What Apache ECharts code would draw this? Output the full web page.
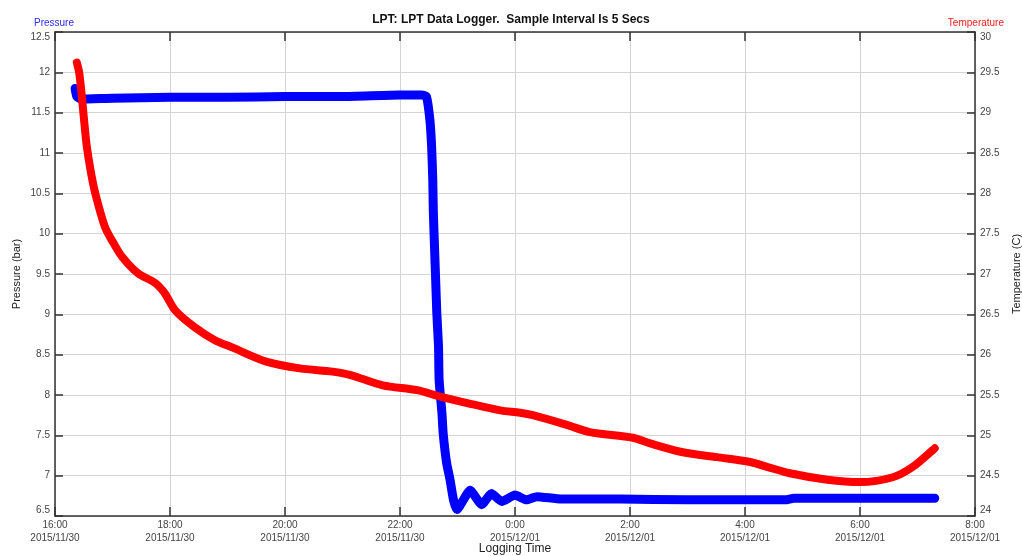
<!DOCTYPE html>
<html>
<head>
<meta charset="utf-8">
<script src="https://cdn.jsdelivr.net/npm/echarts@6/dist/echarts.min.js"></script>
<style>
  html, body { margin: 0; padding: 0; background: #fff; }
  #chart { width: 1022px; height: 556px; }
</style>
</head>
<body>
<div id="chart"></div>
<script>
// Logging time is in hours counted from 2015/11/30 00:00
const pressureHours = [16.35, 16.38, 16.45, 17.0, 18.0, 19.0, 20.0, 21.0, 22.0, 22.30, 22.38, 22.46, 22.52,
  22.55, 22.57, 22.58, 22.60, 22.62, 22.64, 22.67, 22.68, 22.73, 22.75, 22.81, 22.87, 22.93, 22.99,
  23.22, 23.42, 23.59, 23.77, 24.0, 24.20, 24.38, 24.8, 25.83, 27.0, 28.0, 28.7, 28.85, 29.5, 30.5, 31.3];
const pressureBar = [11.80, 11.70, 11.67, 11.68, 11.69, 11.69, 11.70, 11.70, 11.72, 11.72, 11.72, 11.70, 11.41,
  11.08, 10.67, 10.26, 9.84, 9.43, 9.02, 8.60, 8.19, 7.77, 7.53, 7.16, 6.95, 6.70, 6.58,
  6.82, 6.64, 6.78, 6.68, 6.76, 6.70, 6.74, 6.71, 6.71, 6.70, 6.70, 6.70, 6.72, 6.72, 6.72, 6.72];

const tempHours = [16.38, 16.42, 16.46, 16.50, 16.55, 16.62, 16.70, 16.87, 17.02, 17.17, 17.44, 17.74, 17.91,
  18.09, 18.43, 18.78, 19.08, 19.69, 20.26, 20.83, 21.13, 21.70, 22.30, 22.70, 23.17, 23.74, 24.09,
  24.31, 24.90, 25.30, 26.05, 26.35, 26.92, 27.51, 28.09, 28.38, 28.78, 29.43, 30.00, 30.57, 30.92, 31.27, 31.30];
const tempC = [29.62, 29.50, 29.25, 28.95, 28.60, 28.28, 28.00, 27.58, 27.38, 27.21, 27.01, 26.89, 26.76,
  26.55, 26.34, 26.18, 26.09, 25.91, 25.83, 25.79, 25.75, 25.62, 25.56, 25.48, 25.40, 25.31, 25.28,
  25.25, 25.13, 25.04, 24.97, 24.90, 24.79, 24.73, 24.67, 24.61, 24.53, 24.45, 24.42, 24.48, 24.61, 24.82, 24.84];

const pressureTicks = { min: 6.5, max: 12.5, interval: 0.5 };
const tempTicks = { min: 24, max: 30, interval: 0.5 };
const timeTicks = { min: 16, max: 32, interval: 2 };

const FONT = '"Liberation Sans", Arial, sans-serif';
const FRAME = '#333';
const LABEL = '#444';

function timeLabel(h) {
  const hh = Math.round(h) % 24;
  const day = h < 24 ? '2015/11/30' : '2015/12/01';
  return hh + ':00\n' + day;
}

// keep the end labels of a vertical axis inside the plot's height
function edgeLabel(ticks) {
  return function (v) {
    if (v === ticks.min) return '{lo|' + v + '}';
    if (v === ticks.max) return '{hi|' + v + '}';
    return String(v);
  };
}
const edgeRich = {
  lo: { fontFamily: FONT, fontSize: 10, color: LABEL, padding: [0, 0, 12, 0] },
  hi: { fontFamily: FONT, fontSize: 10, color: LABEL, padding: [10, 0, 0, 0] }
};

const pressureData = pressureHours.map((h, i) => [h, pressureBar[i]]);
const tempData = tempHours.map((h, i) => [h, tempC[i]]);

const chart = echarts.init(document.getElementById('chart'), null, { renderer: 'canvas' });
chart.setOption({
  animation: false,
  backgroundColor: '#fff',
  textStyle: { fontFamily: FONT },
  title: {
    text: 'LPT: LPT Data Logger.  Sample Interval Is 5 Secs',
    left: 'center', top: 9,
    textStyle: { fontFamily: FONT, fontSize: 12, fontWeight: 'bold', color: '#111' }
  },
  graphic: [
    { type: 'text', left: 34, top: 18, style: { text: 'Pressure', fill: '#2a2aff', font: '10px ' + FONT } },
    { type: 'text', right: 18, top: 18, style: { text: 'Temperature', fill: '#ff2020', font: '10px ' + FONT } }
  ],
  grid: { left: 55, right: 47, top: 32, bottom: 40, containLabel: false, outerBoundsMode: 'none' },
  xAxis: [
    {
      type: 'value', position: 'bottom',
      min: timeTicks.min, max: timeTicks.max, interval: timeTicks.interval,
      name: 'Logging Time', nameLocation: 'middle', nameGap: 27, nameMoveOverlap: false,
      nameTextStyle: { fontFamily: FONT, fontSize: 12, color: '#222' },
      axisLine: { lineStyle: { color: FRAME, width: 1.5 } },
      axisTick: { inside: true, length: 9, lineStyle: { color: FRAME, width: 1.5 } },
      axisLabel: { formatter: timeLabel, fontFamily: FONT, fontSize: 10, color: LABEL, lineHeight: 13, margin: 3 },
      splitLine: { show: true, lineStyle: { color: '#d4d4d4', width: 1 } }
    },
    {
      type: 'value', position: 'top',
      min: timeTicks.min, max: timeTicks.max, interval: timeTicks.interval,
      axisLine: { lineStyle: { color: FRAME, width: 1.5 } },
      axisTick: { inside: true, length: 9, lineStyle: { color: FRAME, width: 1.5 } },
      axisLabel: { show: false },
      splitLine: { show: false }
    }
  ],
  yAxis: [
    {
      type: 'value', position: 'left',
      min: pressureTicks.min, max: pressureTicks.max, interval: pressureTicks.interval,
      name: 'Pressure (bar)', nameLocation: 'middle', nameGap: 33, nameMoveOverlap: false,
      nameTextStyle: { fontFamily: FONT, fontSize: 11, color: '#222' },
      axisLine: { show: true, lineStyle: { color: FRAME, width: 1.5 } },
      axisTick: { show: true, inside: true, length: 8, lineStyle: { color: FRAME, width: 1.5 } },
      axisLabel: { fontFamily: FONT, fontSize: 10, color: LABEL, margin: 5,
        formatter: edgeLabel(pressureTicks), rich: edgeRich },
      splitLine: { show: true, lineStyle: { color: '#d4d4d4', width: 1 } }
    },
    {
      type: 'value', position: 'right',
      min: tempTicks.min, max: tempTicks.max, interval: tempTicks.interval,
      name: 'Temperature (C)', nameLocation: 'middle', nameGap: 36, nameMoveOverlap: false,
      nameTextStyle: { fontFamily: FONT, fontSize: 11, color: '#222' },
      axisLine: { show: true, lineStyle: { color: FRAME, width: 1.5 } },
      axisTick: { show: true, inside: true, length: 8, lineStyle: { color: FRAME, width: 1.5 } },
      axisLabel: { fontFamily: FONT, fontSize: 10, color: LABEL, margin: 5,
        formatter: edgeLabel(tempTicks), rich: edgeRich },
      splitLine: { show: false }
    }
  ],
  series: [
    {
      name: 'Pressure', type: 'line', xAxisIndex: 0, yAxisIndex: 0,
      data: pressureData, showSymbol: false, smooth: 0.15,
      lineStyle: { color: '#0000ff', width: 9, cap: 'round', join: 'round' },
      z: 2
    },
    {
      name: 'Temperature', type: 'line', xAxisIndex: 0, yAxisIndex: 1,
      data: tempData, showSymbol: false, smooth: 0.3,
      lineStyle: { color: '#ff0000', width: 8, cap: 'round', join: 'round' },
      z: 3
    }
  ]
});
</script>
</body>
</html>
